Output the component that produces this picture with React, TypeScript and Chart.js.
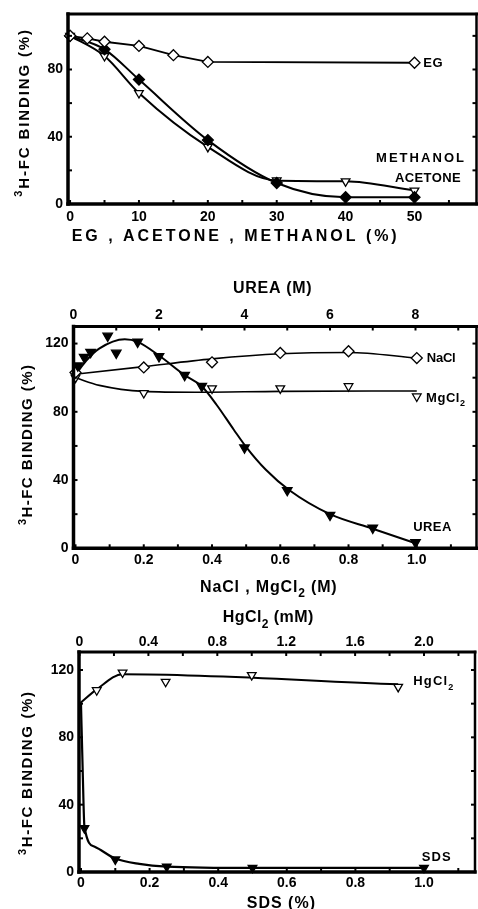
import { useEffect, useRef } from 'react';
import { Chart, registerables } from 'chart.js';

Chart.register(...registerables);

const FONT = '"Liberation Sans", Arial, Helvetica, sans-serif';

// ---- Panel 1: organic solvents (% v/v) ----
const egPct = [0, 2.5, 5, 10, 15, 20, 50];
const egBinding = [100, 98.5, 96.5, 94, 88.5, 84.5, 84];
const acetonePct = [0, 5, 10, 20, 30, 40, 50];
const acetoneBinding = [100, 92, 74, 38, 12.5, 4, 4];
const methanolPct = [0, 5, 10, 20, 30, 40, 50];
const methanolBinding = [100, 88, 66, 34, 14, 13.5, 8];

// ---- Panel 2: urea (M, top axis), NaCl / MgCl2 (M, bottom axis) ----
const ureaM = [0.1, 0.25, 0.4, 0.8, 1.0, 1.5, 2.0, 2.6, 3.0, 4.0, 5.0, 6.0, 7.0, 8.0];
const ureaBinding = [107, 112, 115, 124.5, 114.5, 121, 112.5, 101.5, 95, 59, 34, 19.5, 12, 3.5];
const ureaCurveM = [0, 0.3, 0.6, 1.2, 1.5, 2.0, 2.6, 3.0, 3.35, 3.75, 4.05, 4.5, 5.05, 6.0, 7.0, 8.0];
const ureaCurveBinding = [100, 110, 117, 122.5, 121, 113, 101.5, 95, 84, 69.5, 59, 46, 34, 20, 11.5, 3];
const naclM = [0, 0.2, 0.4, 0.6, 0.8, 1.0];
const naclBinding = [103, 106, 109, 114.5, 115.5, 111.5];
const naclCurveM = [0, 0.2, 0.4, 0.6, 0.8, 1.0];
const naclCurveBinding = [102, 106.5, 111, 114, 114.8, 111.5];
const mgcl2M = [0, 0.2, 0.4, 0.6, 0.8, 1.0];
const mgcl2Binding = [100, 91, 93.7, 93.7, 95, 89];
const mgcl2CurveM = [0, 0.07, 0.2, 0.35, 0.6, 1.0];
const mgcl2CurveBinding = [100, 95.5, 92, 91.5, 92, 92.2];

// ---- Panel 3: HgCl2 (mM, top axis), SDS (%, bottom axis) ----
const hgcl2MM = [0.1, 0.25, 0.5, 1.0, 1.85];
const hgcl2Binding = [108, 118.5, 113, 117, 110];
const hgcl2CurveMM = [0, 0.1, 0.25, 1.85];
const hgcl2CurveBinding = [100, 108.5, 117.5, 111.5];
const sdsPct = [0.01, 0.1, 0.25, 0.5, 1.0];
const sdsBinding = [26, 7.5, 3.2, 2.5, 2.5];
const sdsCurvePct = [0, 0.005, 0.01, 0.04, 0.1, 0.17, 0.25, 0.5, 1.0];
const sdsCurveBinding = [100, 60, 27, 15, 8, 4.8, 3.2, 2.4, 2.4];

// ---- Tick values and their labels ----
const solventTicks = [0, 5, 10, 15, 20, 25, 30, 35, 40, 45, 50, 55];
const solventLabels = ['0', '', '10', '', '20', '', '30', '', '40', '', '50', ''];
const bindingTicks1 = [0, 20, 40, 60, 80, 100];
const bindingLabels1 = ['0', '', '40', '', '80', ''];
const bindingTicks = [0, 20, 40, 60, 80, 100, 120];
const bindingLabels = ['0', '', '40', '', '80', '', '120'];
const ureaTicks = [0, 1, 2, 3, 4, 5, 6, 7, 8, 9];
const ureaLabels = ['0', '', '2', '', '4', '', '6', '', '8', ''];
const saltTicks = [0, 0.1, 0.2, 0.3, 0.4, 0.5, 0.6, 0.7, 0.8, 0.9, 1.0, 1.1];
const saltLabels = ['0', '', '0.2', '', '0.4', '', '0.6', '', '0.8', '', '1.0', ''];
const hgTicks = [0, 0.2, 0.4, 0.6, 0.8, 1.0, 1.2, 1.4, 1.6, 1.8, 2.0, 2.2];
const hgLabels = ['0', '', '0.4', '', '0.8', '', '1.2', '', '1.6', '', '2.0', ''];
const sdsTicks = saltTicks;
const sdsLabels = saltLabels;

type Seg = [string, 'n' | 'sub' | 'sup'];
type Note = { segs: Seg[]; x: number; y: number; w: number; size: number; rot?: boolean };

const pts = (xs: number[], ys: number[]) => xs.map((x, i) => ({ x, y: ys[i] }));

function markers(data: any[], style: string, filled: boolean, radius: number, xAxisID = 'x') {
  return {
    data,
    xAxisID,
    showLine: false,
    pointStyle: style,
    pointRotation: style === 'triangle' ? 180 : 0,
    pointRadius: radius,
    pointBackgroundColor: filled ? '#000' : '#fff',
    pointBorderColor: '#000',
    pointBorderWidth: 1.3,
    clip: false,
    order: 0,
  };
}

function curve(data: any[], width: number, xAxisID = 'x', smooth = true) {
  return {
    data,
    xAxisID,
    showLine: true,
    pointRadius: 0,
    borderColor: '#000',
    borderWidth: width,
    cubicInterpolationMode: smooth ? 'monotone' : 'default',
    tension: 0,
    clip: false,
    order: 1,
  };
}

function scale(position: string, min: number, max: number, values: number[], labels: string[], size: number, pad: number) {
  return {
    type: 'linear',
    position,
    min,
    max,
    afterBuildTicks: (s: any) => {
      s.ticks = values.map((v) => ({ value: v }));
    },
    afterFit: (s: any) => {
      if (position === 'left') s.width = size;
      else s.height = size;
    },
    grid: { display: false, drawTicks: false },
    border: { display: false },
    ticks: {
      padding: pad,
      color: '#000',
      autoSkip: false,
      maxRotation: 0,
      font: { family: FONT, weight: 'bold', size: 14 },
      callback: (_v: any, i: number) => labels[i],
    },
  };
}

function drawRich(ctx: CanvasRenderingContext2D, n: Note) {
  const chars: { c: string; k: string; w: number }[] = [];
  n.segs.forEach(([t, k]) => {
    for (const c of t) chars.push({ c, k, w: 0 });
  });
  const fontFor = (k: string) => `bold ${k === 'n' ? n.size : Math.round(n.size * 0.72)}px ${FONT}`;
  let natural = 0;
  chars.forEach((ch) => {
    ctx.font = fontFor(ch.k);
    ch.w = ctx.measureText(ch.c).width;
    natural += ch.w;
  });
  const gap = chars.length > 1 ? (n.w - natural) / (chars.length - 1) : 0;
  ctx.save();
  ctx.fillStyle = '#000';
  ctx.textAlign = 'left';
  ctx.textBaseline = 'alphabetic';
  ctx.translate(n.x, n.y);
  if (n.rot) ctx.rotate(-Math.PI / 2);
  const base = n.size * 0.358;
  let x = 0;
  chars.forEach((ch) => {
    ctx.font = fontFor(ch.k);
    const dy = ch.k === 'sub' ? n.size * 0.32 : ch.k === 'sup' ? -n.size * 0.42 : 0;
    ctx.fillText(ch.c, x, base + dy);
    x += ch.w + gap;
  });
  ctx.restore();
}

// Frame with inward tick marks on every side, plus free-standing labels
function framePlugin(offset: number, notes: Note[], rightTicks: number[]) {
  return {
    id: 'frame',
    afterDatasetsDraw(chart: any) {
      const ctx: CanvasRenderingContext2D = chart.ctx;
      const { left, right, top, bottom } = chart.chartArea;
      ctx.save();
      ctx.strokeStyle = '#000';
      ctx.lineCap = 'square';
      const line = (x1: number, y1: number, x2: number, y2: number, w: number) => {
        ctx.lineWidth = w;
        ctx.beginPath();
        ctx.moveTo(x1, y1);
        ctx.lineTo(x2, y2);
        ctx.stroke();
      };
      line(left, top, right, top, 3);
      line(right, top, right, bottom, 2.5);
      line(left, top, left, bottom, 3.5);
      line(left, bottom, right, bottom, 3.5);
      ctx.lineCap = 'butt';
      const tl = 4;
      Object.values(chart.scales).forEach((s: any) => {
        s.ticks.forEach((t: any) => {
          const p = s.getPixelForValue(t.value);
          if (s.position === 'bottom') line(p, bottom, p, bottom - tl, 2);
          else if (s.position === 'top') line(p, top, p, top + tl, 2);
          else if (s.position === 'left') line(left, p, left + tl, p, 2);
        });
      });
      const y = chart.scales.y;
      rightTicks.forEach((v) => {
        const p = y.getPixelForValue(v);
        line(right, p, right - tl, p, 2);
      });
      ctx.restore();
      notes.forEach((n) => drawRich(ctx, { ...n, y: n.y - offset }));
    },
  };
}

function baseOptions(padding: any, scales: any) {
  return {
    responsive: false,
    devicePixelRatio: 1,
    animation: false,
    events: [],
    layout: { padding, autoPadding: false },
    plugins: { legend: { display: false }, tooltip: { enabled: false } },
    scales,
  };
}

function panelSolvents(offset: number) {
  const notes: Note[] = [
    { segs: [['EG , ACETONE , METHANOL (%)', 'n']], x: 71.7, y: 235, w: 325, size: 16 },
    { segs: [['3', 'sup'], ['H-FC BINDING (%)', 'n']], x: 23.3, y: 196.7, w: 166.7, size: 15, rot: true },
    { segs: [['EG', 'n']], x: 423.3, y: 62.7, w: 19.4, size: 13 },
    { segs: [['METHANOL', 'n']], x: 376, y: 157.3, w: 88, size: 13 },
    { segs: [['ACETONE', 'n']], x: 395, y: 177.3, w: 65.7, size: 13 },
  ];
  return {
    type: 'scatter',
    data: {
      datasets: [
        markers(pts(egPct, egBinding), 'rectRot', false, 5.5),
        markers(pts(acetonePct, acetoneBinding), 'rectRot', true, 5.5),
        markers(pts(methanolPct, methanolBinding), 'triangle', false, 5),
        curve(pts(egPct, egBinding), 1.8, 'x', false),
        curve(pts(acetonePct, acetoneBinding), 2),
        curve(pts(methanolPct, methanolBinding), 2),
      ],
    },
    options: baseOptions(
      { top: 14, right: 1.5, left: 0, bottom: 0 },
      {
        x: scale('bottom', -0.3, 59, solventTicks, solventLabels, 51, 5),
        y: scale('left', 0, 113, bindingTicks1, bindingLabels1, 68, 5),
      }
    ),
    plugins: [framePlugin(offset, notes, bindingTicks1)],
  };
}

function panelSalts(offset: number) {
  const notes: Note[] = [
    { segs: [['UREA (M)', 'n']], x: 233, y: 287.3, w: 78.7, size: 16 },
    { segs: [['NaCl , MgCl', 'n'], ['2', 'sub'], [' (M)', 'n']], x: 200, y: 586, w: 136.7, size: 16 },
    { segs: [['3', 'sup'], ['H-FC BINDING (%)', 'n']], x: 27, y: 525, w: 160, size: 15, rot: true },
    { segs: [['NaCl', 'n']], x: 426.7, y: 357.3, w: 29, size: 13 },
    { segs: [['MgCl', 'n'], ['2', 'sub']], x: 426, y: 397.3, w: 39, size: 13 },
    { segs: [['UREA', 'n']], x: 413.3, y: 526, w: 38, size: 13 },
  ];
  return {
    type: 'scatter',
    data: {
      datasets: [
        markers(pts(ureaM, ureaBinding), 'triangle', true, 5.5, 'xTop'),
        markers(pts(naclM, naclBinding), 'rectRot', false, 5.5),
        markers(pts(mgcl2M, mgcl2Binding), 'triangle', false, 5),
        curve(pts(ureaCurveM, ureaCurveBinding), 2, 'xTop'),
        curve(pts(naclCurveM, naclCurveBinding), 1.6),
        curve(pts(mgcl2CurveM, mgcl2CurveBinding), 1.6),
      ],
    },
    options: baseOptions(
      { top: 0, right: 1.5, left: 0, bottom: 0 },
      {
        x: scale('bottom', -0.0059, 1.175, saltTicks, saltLabels, 51.7, 3),
        xTop: scale('top', 0, 9.427, ureaTicks, ureaLabels, 71.5, 3),
        y: scale('left', 0, 130, bindingTicks, bindingLabels, 73.5, 5),
      }
    ),
    plugins: [framePlugin(offset, notes, bindingTicks)],
  };
}

function panelDetergent(offset: number) {
  const notes: Note[] = [
    { segs: [['HgCl', 'n'], ['2', 'sub'], [' (mM)', 'n']], x: 222.7, y: 616.7, w: 90.6, size: 16 },
    { segs: [['SDS (%)', 'n']], x: 246.7, y: 902, w: 68.3, size: 16 },
    { segs: [['3', 'sup'], ['H-FC BINDING (%)', 'n']], x: 26.5, y: 855, w: 163, size: 15, rot: true },
    { segs: [['HgCl', 'n'], ['2', 'sub']], x: 413.3, y: 680.7, w: 40, size: 13 },
    { segs: [['SDS', 'n']], x: 421.7, y: 856, w: 29, size: 13 },
  ];
  return {
    type: 'scatter',
    data: {
      datasets: [
        markers(pts(hgcl2MM, hgcl2Binding), 'triangle', false, 5, 'xTop'),
        markers(pts(sdsPct, sdsBinding), 'triangle', true, 5),
        curve(pts(hgcl2CurveMM, hgcl2CurveBinding), 2, 'xTop'),
        curve(pts(sdsCurvePct, sdsCurveBinding), 2.2),
      ],
    },
    options: baseOptions(
      { top: 0, right: 3, left: 0, bottom: 0 },
      {
        x: scale('bottom', -0.0058, 1.1487, sdsTicks, sdsLabels, 37, 3),
        xTop: scale('top', -0.0029, 2.296, hgTicks, hgLabels, 52, 1),
        y: scale('left', 0, 130.7, bindingTicks, bindingLabels, 79, 5),
      }
    ),
    plugins: [framePlugin(offset, notes, bindingTicks)],
  };
}

function Panel({ top, height, build }: { top: number; height: number; build: (o: number) => any }) {
  const ref = useRef<HTMLCanvasElement>(null);
  useEffect(() => {
    const chart = new Chart(ref.current as HTMLCanvasElement, build(top));
    return () => chart.destroy();
  }, []);
  return (
    <canvas
      ref={ref}
      width={478}
      height={height}
      style={{ position: 'absolute', left: 0, top, width: 478, height }}
    />
  );
}

export default function App() {
  return (
    <div style={{ position: 'absolute', left: 0, top: 0, width: 478, height: 909, background: '#fff', overflow: 'hidden' }}>
      <Panel top={0} height={255} build={panelSolvents} />
      <Panel top={255} height={345} build={panelSalts} />
      <Panel top={600} height={309} build={panelDetergent} />
    </div>
  );
}
